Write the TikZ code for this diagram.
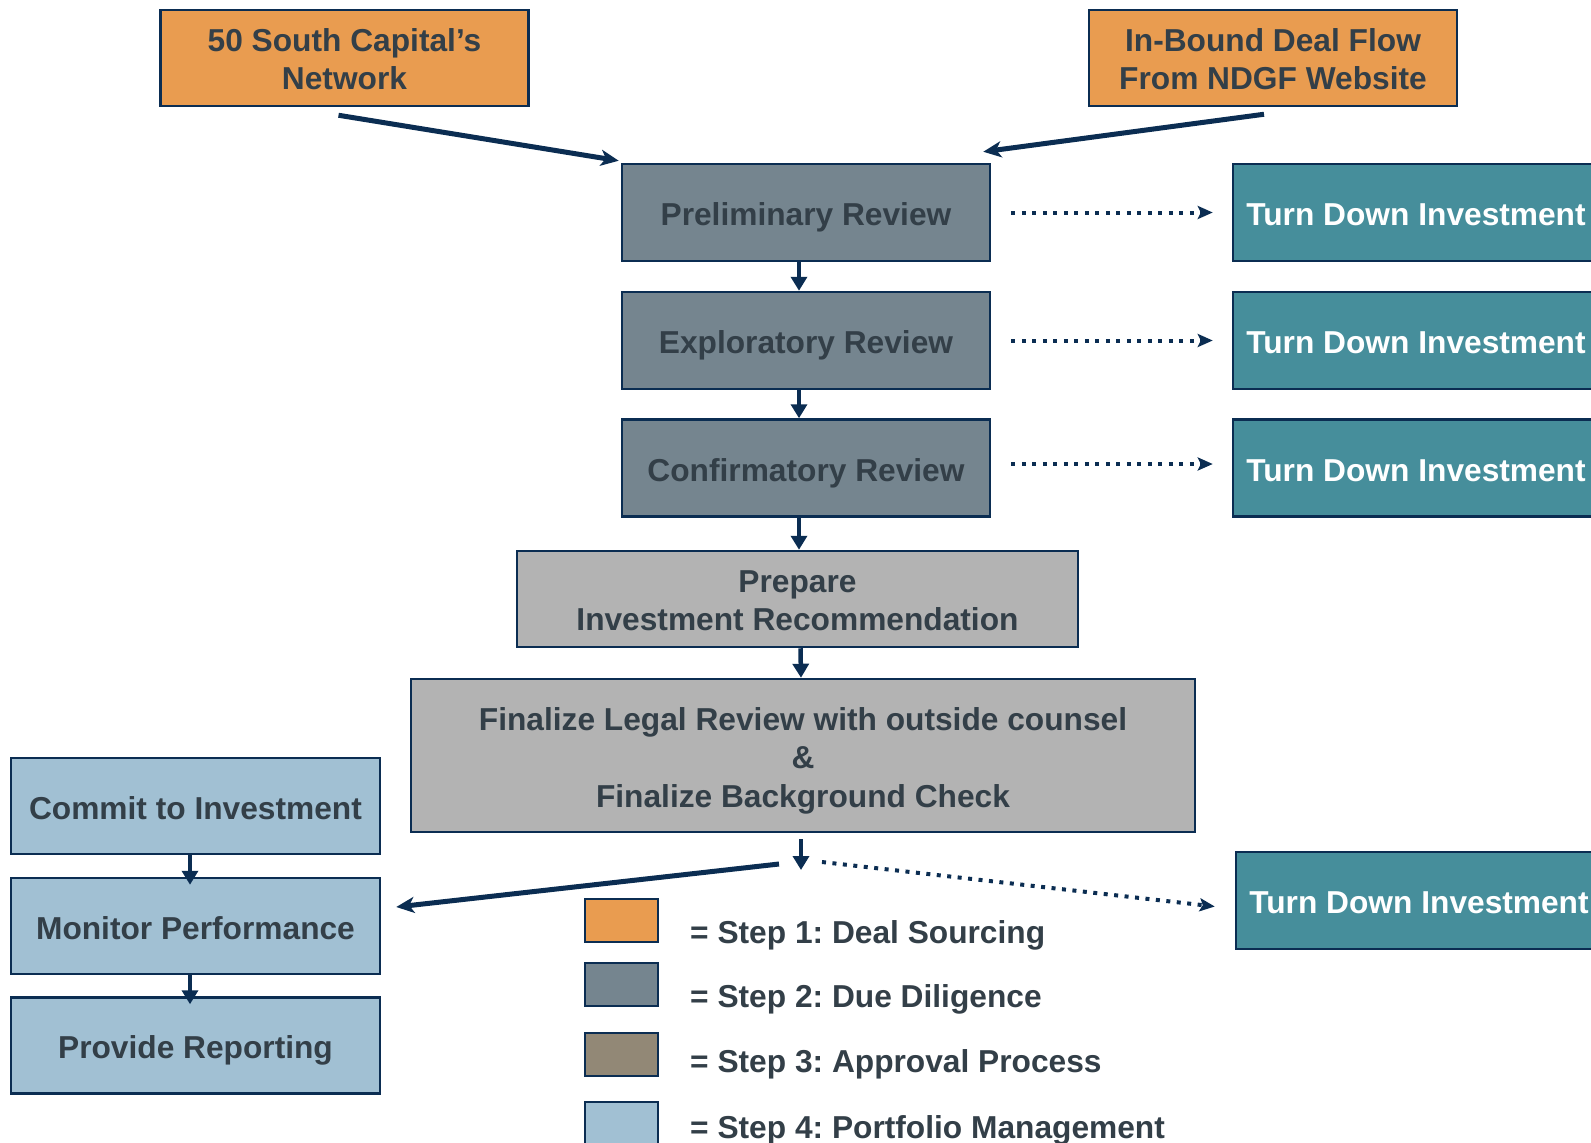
\documentclass[tikz,border=0pt]{standalone}
\usepackage{fontspec}
\setmainfont{Liberation Sans}
\frenchspacing
\usetikzlibrary{arrows.meta,calc}
\definecolor{navy}{HTML}{0B2D52}
\definecolor{inktext}{HTML}{333F48}
\definecolor{dealorange}{HTML}{E99C50}
\definecolor{dueslate}{HTML}{75858F}
\definecolor{turnteal}{HTML}{468E9B}
\definecolor{recgrey}{HTML}{B3B3B3}
\definecolor{approvetaupe}{HTML}{928876}
\definecolor{portblue}{HTML}{A1C0D3}
\newcommand\boxfont{\fontsize{31.7}{38.5}\selectfont\bfseries}
\tikzset{
 stage/.style={draw=navy,line width=2.5pt,text=inktext,align=center,font=\boxfont,minimum width=368,minimum height=97},
 oneline/.style={text height=26pt,text depth=0pt},
 twolines/.style={text height=63pt,text depth=0pt},
 sourcebox/.style={stage,twolines,fill=dealorange,minimum height=96},
 reviewbox/.style={stage,oneline,fill=dueslate},
 turnbox/.style={stage,oneline,fill=turnteal,text=white,minimum width=366},
 prepbox/.style={stage,fill=recgrey,minimum height=96},
 portbox/.style={stage,oneline,fill=portblue,minimum width=369,minimum height=96},
 swatch/.style={draw=navy,line width=2pt,minimum width=73,minimum height=43,inner sep=0},
 keytext/.style={anchor=base west,inner sep=0,text=inktext,font=\boxfont},
 flow/.style={draw=navy,line width=5pt,-{Stealth[length=18pt,width=16pt,inset=5pt]}},
 downarrow/.style={draw=navy,line width=4.5pt,-{Triangle[length=14pt,width=16pt]}},
 dotflow/.style={draw=navy,line width=4pt,dash pattern=on 4pt off 6.5pt,-{Stealth[length=15pt,width=13pt,inset=3pt]}}
}
\begin{document}
\begin{tikzpicture}[x=1pt,y=-1pt]
\path[use as bounding box] (0,0) rectangle (1591,1143);
% step 1: where deals come from
\node[sourcebox] (network) at (344.5,58) {50 South Capital’s\\Network};
\node[sourcebox] (website) at (1273,58) {In-Bound Deal Flow\\From NDGF Website};
% step 2: the reviews
\node[reviewbox] (prelim) at (806,212.5) {Preliminary Review};
\node[reviewbox] (explor) at (806,340.5) {Exploratory Review};
\node[reviewbox] (confirm) at (806,468) {Confirmatory Review};
\node[turnbox] (turnA) at (1416,212.5) {Turn Down Investment};
\node[turnbox] (turnB) at (1416,340.5) {Turn Down Investment};
\node[turnbox] (turnC) at (1416,468) {Turn Down Investment};
% step 3
\node[prepbox,twolines,minimum width=561] (prepare) at (797.5,599) {Prepare\\Investment Recommendation};
\node[prepbox,minimum width=784,minimum height=153,text height=103pt,text depth=0pt] (legal) at (803,755.5) {Finalize Legal Review with outside counsel\\\&\\Finalize Background Check};
\node[turnbox] (turnD) at (1419,900.5) {Turn Down Investment};
% step 4
\node[portbox] (commit) at (195.5,806) {Commit to Investment};
\node[portbox] (monitor) at (195.5,926) {Monitor Performance};
\node[portbox] (report) at (195.5,1045.5) {Provide Reporting};
% connectors
\coordinate (split) at (801,870);
\coordinate (forkL) at (779,864);
\coordinate (forkR) at (822,862);
\draw[flow] ($(network.south)+(-6,8)$) -- ($(prelim.north west)+(-2,-2)$);
\draw[flow] ($(website.south)+(-9,7)$) -- ($(prelim.north east)+(-8,-11)$);
\draw[downarrow] ($(prelim.south)+(-7,0)$) -- ($(explor.north)+(-7,0)$);
\draw[downarrow] ($(explor.south)+(-7,0)$) -- ($(confirm.north)+(-7,0)$);
\draw[downarrow] ($(confirm.south)+(-7,0)$) -- ($(prepare.north)+(1.5,0)$);
\draw[downarrow] ($(prepare.south)+(3,0)$) -- ($(legal.north)+(-2,0)$);
\draw[downarrow] ($(legal.south)+(-2,6)$) -- (split);
\draw[dotflow,shorten <=20pt,shorten >=19pt] (prelim.east) -- (turnA.west);
\draw[dotflow,shorten <=20pt,shorten >=19pt] (explor.east) -- (turnB.west);
\draw[dotflow,shorten <=20pt,shorten >=19pt] ($(confirm.east)+(0,-4)$) -- ($(turnC.west)+(0,-4)$);
\draw[flow] (forkL) -- ($(monitor.east)+(15,-19)$);
\draw[dotflow] (forkR) -- ($(turnD.west)+(-20,6)$);
\draw[downarrow,shorten >=-8pt] ($(commit.south)+(-5.5,0)$) -- ($(monitor.north)+(-5.5,0)$);
\draw[downarrow,shorten >=-8pt] ($(monitor.south)+(-5.5,0)$) -- ($(report.north)+(-5.5,0)$);
% key
\node[swatch,fill=dealorange] (keyA) at (621.5,920.5) {};
\node[swatch,fill=dueslate] (keyB) at (621.5,984.5) {};
\node[swatch,fill=approvetaupe] (keyC) at (621.5,1054.5) {};
\node[swatch,fill=portblue] (keyD) at (621.5,1123.5) {};
\node[keytext] at (690,943) {= Step 1: Deal Sourcing};
\node[keytext] at (690,1007) {= Step 2: Due Diligence};
\node[keytext] at (690,1072) {= Step 3: Approval Process};
\node[keytext] at (690,1138) {= Step 4: Portfolio Management};
\end{tikzpicture}
\end{document}
